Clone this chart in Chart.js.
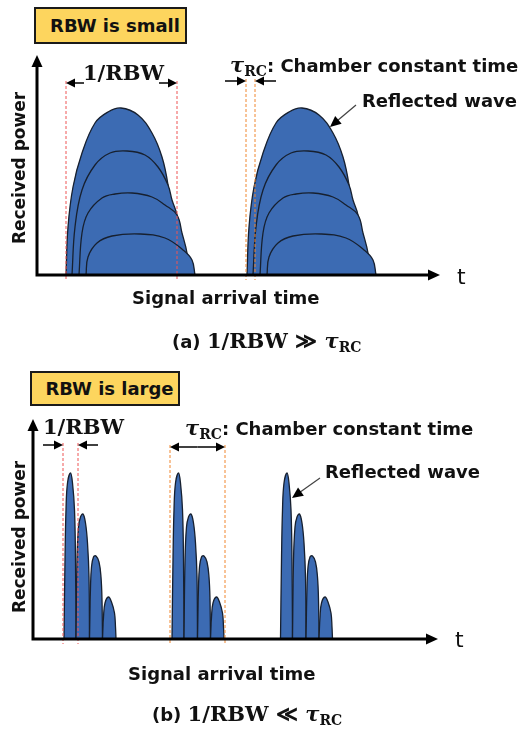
<!DOCTYPE html>
<html>
<head>
<meta charset="utf-8">
<script src="https://cdn.jsdelivr.net/npm/chart.js@4.4.0/dist/chart.umd.min.js"></script>
<style>
body{margin:0;background:#fff;width:520px;height:729px;overflow:hidden;position:relative;font-family:"DejaVu Sans",sans-serif;color:#111;}
canvas{position:absolute;left:0;top:0;}
.t{position:absolute;white-space:nowrap;font-weight:bold;font-size:18px;line-height:1;transform:translateY(-50%);}
.box{position:absolute;background:#FDD55E;border:2px solid #1a1a1a;box-sizing:border-box;display:flex;align-items:center;justify-content:center;padding-left:9px;font-weight:bold;font-size:18px;}
.m{font-family:"DejaVu Serif",serif;font-weight:bold;font-size:21px;}
.tau{font-family:"DejaVu Serif",serif;font-weight:bold;font-style:italic;font-size:21px;}
.sub{font-family:"DejaVu Serif",serif;font-weight:bold;font-size:14px;vertical-align:-4px;}
.rot{font-size:17px;transform:translate(-50%,-50%) rotate(-90deg);}
</style>
</head>
<body>
<canvas id="chartA" width="520" height="729"></canvas>
<canvas id="chartB" width="520" height="729"></canvas>

<div class="box" style="left:34px;top:7px;width:153px;height:37px;">RBW is small</div>
<div class="t m" style="left:83px;top:72px;">1/RBW</div>
<div class="t" style="left:230px;top:66px;"><span class="tau">τ</span><span class="sub">RC</span>: Chamber constant time</div>
<div class="t" style="left:362px;top:101px;">Reflected wave</div>
<div class="t rot" style="left:19px;top:168px;">Received power</div>
<div class="t" style="left:457px;top:277px;font-size:22px;font-weight:normal;">t</div>
<div class="t" style="left:132px;top:298px;">Signal arrival time</div>
<div class="t" style="left:172px;top:342px;">(a) <span class="m">1/RBW ≫ </span><span class="tau">τ</span><span class="sub">RC</span></div>

<div class="box" style="left:30px;top:371px;width:150px;height:35px;">RBW is large</div>
<div class="t m" style="left:43px;top:426px;">1/RBW</div>
<div class="t" style="left:185px;top:429px;"><span class="tau">τ</span><span class="sub">RC</span>: Chamber constant time</div>
<div class="t" style="left:325px;top:472px;">Reflected wave</div>
<div class="t rot" style="left:19px;top:537px;">Received power</div>
<div class="t" style="left:455px;top:640px;font-size:22px;font-weight:normal;">t</div>
<div class="t" style="left:128px;top:674px;">Signal arrival time</div>
<div class="t" style="left:152px;top:715px;">(b) <span class="m">1/RBW ≪ </span><span class="tau">τ</span><span class="sub">RC</span></div>

<script>
// (a) RBW small: wide echoes, two arrivals, 4 echoes each (biggest first)
const wideTimes1 = [
  [29, 31, 36, 45, 58, 71, 84, 101, 115, 125, 131, 134, 137, 139],
  [35, 38, 45, 58, 73, 90, 108, 121, 131, 135, 140, 142.5, 144],
  [42, 45, 51, 65, 78, 95, 115, 128, 140, 145, 150, 152],
  [49, 51, 60, 75, 103, 128, 146, 155, 158]
];
const wideTimes2 = [
  [210, 212, 217, 226, 239, 252, 265, 282, 296, 306, 312, 315, 318, 320],
  [216, 219, 226, 239, 254, 271, 289, 302, 312, 316, 321, 323.5, 325],
  [223, 226, 232, 246, 259, 276, 296, 309, 321, 326, 331, 333],
  [230, 232, 241, 256, 284, 309, 327, 336, 339]
];
const widePower = [
  [0, 48, 88, 122, 152, 163, 167, 160, 142, 118, 90, 60, 30, 0],
  [0, 48, 85, 110, 122, 124, 120, 108, 90, 75, 60, 35, 0],
  [0, 42, 62, 77, 81, 82, 78, 70, 60, 42, 22, 0],
  [0, 18, 32, 39, 41, 37, 25, 15, 0]
];

// (b) RBW large: narrow echoes, three arrivals
const narrowTimes1 = [
  [31, 32, 33, 34.5, 37.5, 39.5, 41.5, 42.5, 43],
  [43, 44, 45.5, 47.5, 50, 52.5, 54.5, 56, 56.5],
  [56.5, 57.5, 58.5, 60.5, 63, 66, 68, 69, 69.5],
  [69.5, 70.5, 72, 75.5, 78.5, 81.5, 82.5, 83]
];
const narrowTimes2 = [
  [139, 140, 141, 142.5, 145.5, 147.5, 149.5, 150.5, 151],
  [151, 152, 153.5, 155.5, 158, 160.5, 162.5, 164, 164.5],
  [164.5, 165.5, 166.5, 168.5, 171, 174, 176, 177, 177.5],
  [177.5, 178.5, 180, 183.5, 186.5, 189.5, 190.5, 191]
];
const narrowTimes3 = [
  [247.5, 248.5, 249.5, 251, 254, 256, 258, 259, 259.5],
  [259.5, 260.5, 262, 264, 266.5, 269, 271, 272.5, 273],
  [273, 274, 275, 277, 279.5, 282.5, 284.5, 285.5, 286],
  [286, 287, 288.5, 292, 295, 298, 299, 299.5]
];
const narrowPower = [
  [0, 79, 129, 156, 166, 156, 129, 79, 0],
  [0, 79, 112, 122, 125, 116, 96, 62, 0],
  [0, 52, 72, 82, 83, 77, 62, 39, 0],
  [0, 22, 36, 42, 37, 26, 12, 0]
];

// marker times (dashed guides)
const wideRbwMarks = [29, 140];
const wideTauMarks = [209, 218];
const narrowRbwMarks = [30, 45];
const narrowTauMarks = [137, 192];

const FILL = '#3C6BB3';
const EDGE = '#17202f';

function echoSets(timeGroups, power) {
  const sets = [];
  timeGroups.forEach(function (group) {
    group.forEach(function (times, i) {
      sets.push({
        data: times.map(function (t, k) { return {x: t, y: power[i][k]}; }),
        backgroundColor: FILL,
        borderColor: EDGE,
        borderWidth: 1.3,
        fill: 'origin',
        pointRadius: 0,
        tension: 0.4,
        order: group.length - i
      });
    });
  });
  return sets;
}

function head(ctx, x, y, ang, len, half) {
  ctx.save();
  ctx.translate(x, y);
  ctx.rotate(ang);
  ctx.beginPath();
  ctx.moveTo(0, 0);
  ctx.lineTo(-len, -half);
  ctx.lineTo(-len, half);
  ctx.closePath();
  ctx.fill();
  ctx.restore();
}

// draws guides, dimension arrows, pointer and the axis arrows
const diagram = {
  id: 'diagram',
  afterDatasetsDraw(chart, args, o) {
    const ctx = chart.ctx, xs = chart.scales.x, ys = chart.scales.y, a = chart.chartArea;
    ctx.save();
    // dashed guides
    ctx.lineWidth = 1;
    ctx.setLineDash([3, 2]);
    [[o.rbw, '#EE5555'], [o.tau, '#F0862E']].forEach(function (g) {
      ctx.strokeStyle = g[1];
      g[0].marks.forEach(function (m) {
        const px = xs.getPixelForValue(m);
        ctx.beginPath();
        ctx.moveTo(px, ys.getPixelForValue(g[0].level) - 2);
        ctx.lineTo(px, a.bottom + 5);
        ctx.stroke();
      });
    });
    ctx.setLineDash([]);
    // dimension arrows
    ctx.strokeStyle = '#000';
    ctx.fillStyle = '#000';
    ctx.lineWidth = 1.5;
    [o.rbw, o.tau].forEach(function (g) {
      const py = ys.getPixelForValue(g.level);
      const p0 = xs.getPixelForValue(g.marks[0]), p1 = xs.getPixelForValue(g.marks[1]);
      let segs;
      if (g.style === 'out') segs = [[p0 + g.len, p0, Math.PI], [p1 - g.len, p1, 0]];
      else if (g.style === 'in') segs = [[p0 - g.len, p0, 0], [p1 + g.len, p1, Math.PI]];
      else segs = [[(p0 + p1) / 2, p0, Math.PI], [(p0 + p1) / 2, p1, 0]];
      segs.forEach(function (s) {
        ctx.beginPath();
        ctx.moveTo(s[0], py);
        ctx.lineTo(s[1] + (s[2] ? 6 : -6), py);
        ctx.stroke();
        head(ctx, s[1], py, s[2], 9, 4.5);
      });
    });
    // pointer to reflected wave
    const fx = xs.getPixelForValue(o.pointer[0]), fy = ys.getPixelForValue(o.pointer[1]);
    const tx = xs.getPixelForValue(o.pointer[2]), ty = ys.getPixelForValue(o.pointer[3]);
    const ang = Math.atan2(ty - fy, tx - fx);
    ctx.strokeStyle = '#444';
    ctx.lineWidth = 1.2;
    ctx.beginPath();
    ctx.moveTo(fx, fy);
    ctx.lineTo(tx - 8 * Math.cos(ang), ty - 8 * Math.sin(ang));
    ctx.stroke();
    head(ctx, tx, ty, ang, 11, 5);
    // axes with arrowheads
    ctx.strokeStyle = '#000';
    ctx.lineWidth = 3;
    ctx.beginPath();
    ctx.moveTo(a.left, a.bottom + 1.5);
    ctx.lineTo(a.left, a.top + 10);
    ctx.moveTo(a.left - 1.5, a.bottom);
    ctx.lineTo(a.right - 10, a.bottom);
    ctx.stroke();
    head(ctx, a.left, a.top, -Math.PI / 2, 12, 5.5);
    head(ctx, a.right, a.bottom, 0, 12, 5.5);
    ctx.restore();
  }
};

function makeChart(id, sets, xMax, pad, opts) {
  return new Chart(document.getElementById(id), {
    type: 'line',
    data: {datasets: sets},
    options: {
      responsive: false,
      animation: false,
      events: [],
      layout: {padding: pad},
      scales: {
        x: {type: 'linear', min: 0, max: xMax, display: false},
        y: {min: 0, max: 220, display: false}
      },
      plugins: {legend: {display: false}, tooltip: {enabled: false}, diagram: opts}
    },
    plugins: [diagram]
  });
}

makeChart('chartA', echoSets([wideTimes1, wideTimes2], widePower), 403,
  {left: 37, top: 55, right: 80, bottom: 454},
  {
    rbw: {marks: wideRbwMarks, level: 192, style: 'out', len: 18},
    tau: {marks: wideTauMarks, level: 194, style: 'in', len: 21},
    pointer: [319, 170, 293, 148]
  });

makeChart('chartB', echoSets([narrowTimes1, narrowTimes2, narrowTimes3], narrowPower), 405,
  {left: 33, top: 419, right: 82, bottom: 90},
  {
    rbw: {marks: narrowRbwMarks, level: 194, style: 'in', len: 20},
    tau: {marks: narrowTauMarks, level: 192, style: 'both', len: 0},
    pointer: [287, 161, 259, 141]
  });
</script>
</body>
</html>
